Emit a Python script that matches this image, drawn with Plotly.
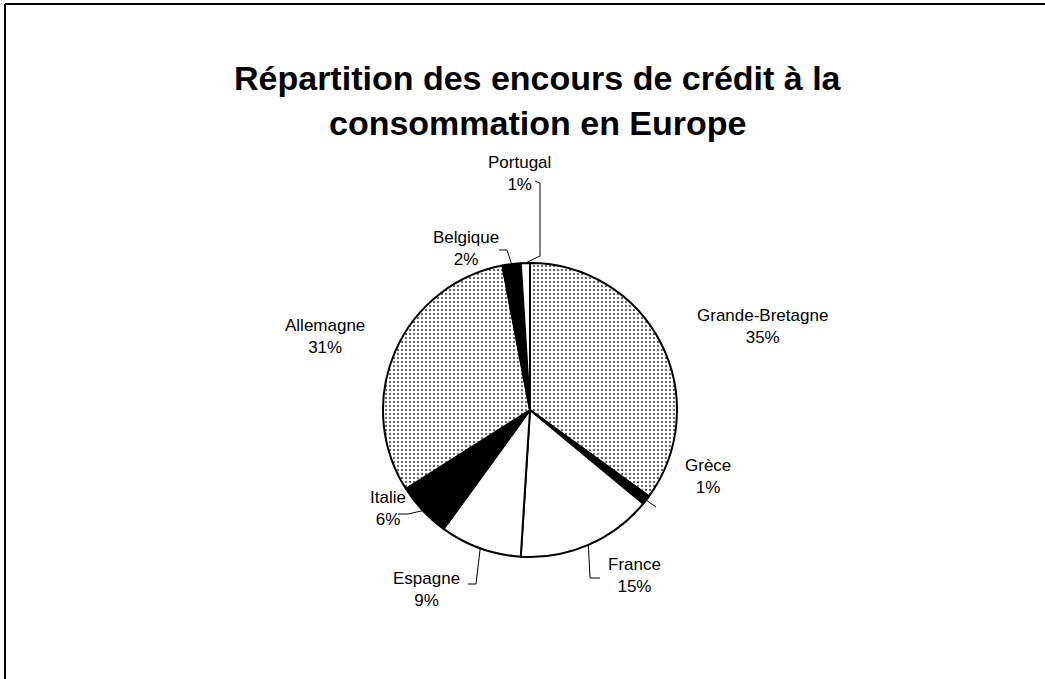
import math
import plotly.graph_objects as go

# ---- data ----
countries = ["Grande-Bretagne", "Grèce", "France", "Espagne", "Italie",
             "Allemagne", "Belgique", "Portugal"]
shares = [35, 1, 15, 9, 6, 31, 2, 1]
fills = ["dots", "black", "white", "white", "black", "dots", "black", "white"]
title_lines = ["Répartition des encours de crédit à la",
               "consommation en Europe"]

W, H = 1045, 679
CX, CY, R = 530, 410, 147  # pie centre / radius in pixels


def px(x):
    return x / W


def py(y):
    return 1 - y / H


colors = []
shapes_pat = []
for f in fills:
    if f == "dots":
        colors.append("white")
        shapes_pat.append(".")
    elif f == "black":
        colors.append("black")
        shapes_pat.append("")
    else:
        colors.append("white")
        shapes_pat.append("")

fig = go.Figure(go.Pie(
    labels=countries,
    values=shares,
    sort=False,
    direction="clockwise",
    rotation=0,
    textinfo="none",
    hoverinfo="label+percent",
    marker=dict(
        colors=colors,
        line=dict(color="black", width=2),
        pattern=dict(shape=shapes_pat, fgcolor="#444444", bgcolor="white",
                     size=4, solidity=0.22, fillmode="replace"),
    ),
    domain=dict(x=[px(CX - R), px(CX + R)], y=[py(CY + R), py(CY - R)]),
    showlegend=False,
))

# label positions (pixel, centre of text block) and leader-line elbows
label_pos = {
    "Grande-Bretagne": (762, 326, None),
    "Grèce": (708, 477, [(656, 507)]),
    "France": (634, 575, [(590, 578), (600, 578)]),
    "Espagne": (426, 589, [(476, 584), (468, 584)]),
    "Italie": (388, 508, [(408, 514), (398, 514)]),
    "Allemagne": (325, 336, None),
    "Belgique": (466, 248, [(507, 250), (499, 250)]),
    "Portugal": (519, 174, [(540, 256), (540, 183), (535, 181)]),
}

annotations = []
shapes = []
total = sum(shares)
cum = 0.0
for name, v in zip(countries, shares):
    mid = (cum + v / 2) / total * 2 * math.pi
    cum += v
    ex = CX + R * math.sin(mid)
    ey = CY - R * math.cos(mid)
    lx, ly, elbow = label_pos[name]
    annotations.append(dict(
        x=px(lx), y=py(ly), xref="paper", yref="paper",
        text=f"{name}<br>{round(v / total * 100)}%",
        showarrow=False, align="center",
        font=dict(family="Liberation Sans, Arial", size=17, color="black"),
        xanchor="center", yanchor="middle",
    ))
    if elbow:
        pts = [(ex, ey)] + elbow
        path = "M " + " L ".join(f"{px(a)},{py(b)}" for a, b in pts)
        shapes.append(dict(type="path", path=path, xref="paper", yref="paper",
                           line=dict(color="black", width=1)))

for i, t in enumerate(title_lines):
    annotations.append(dict(
        x=px(538), y=py(78 + i * 45), xref="paper", yref="paper",
        text=t, showarrow=False, xanchor="center", yanchor="middle",
        font=dict(family="Liberation Sans, Arial", size=34, color="black",
                  weight="bold"),
    ))

# frame lines (top and left)
shapes.append(dict(type="line", xref="paper", yref="paper",
                   x0=px(5), y0=py(4), x1=1, y1=py(4),
                   line=dict(color="black", width=2)))
shapes.append(dict(type="line", xref="paper", yref="paper",
                   x0=px(5), y0=py(4), x1=px(5), y1=0,
                   line=dict(color="black", width=2)))

fig.update_layout(
    width=W, height=H,
    margin=dict(l=0, r=0, t=0, b=0),
    paper_bgcolor="white", plot_bgcolor="white",
    annotations=annotations, shapes=shapes,
)

fig.write_html("out.html", config={"displayModeBar": False},
               post_script="document.body.style.margin='0';")
